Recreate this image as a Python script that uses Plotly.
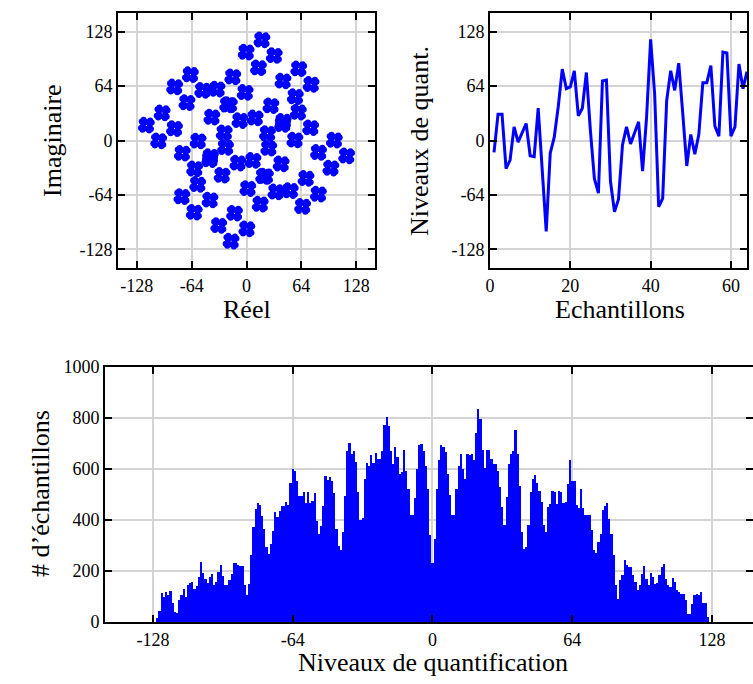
import plotly.graph_objects as go

# ---------------- Data ----------------
# Constellation (top-left): ring centres
ring_x = [16, 59, -67.5, -100.5, -18, 26.5, 58.5, -24,
          -16, -59, 67.5, 100.5, 18, -26.5, -58.5, 24]
ring_y = [102, 68, 61, 16, 58.5, 24.5, 17, 25.5,
          -102, -68, -61, -16, -58.5, -24.5, -17, -25.5]
# offsets of the 4 "flowers" in each ring, of the 4 petals in each flower,
# and of the 4 dots in each petal
flower_dx = [2.0, 16.4, -2.0, -16.4]
flower_dy = [16.4, -2.0, -16.4, 2.0]
petal_dx = [4.3, 3.4, -4.3, -3.4]
petal_dy = [3.4, -4.3, -3.4, 4.3]
dot_dx = [0.2, 2.0, -0.2, -2.0]
dot_dy = [2.0, -0.2, -2.0, 0.2]

# Quantised samples (top-right)
samples = list(range(1, 65))
quant = [-14, 31, 31, -33, -23, 16, -2, 9, 20, -18,
         -19, 38, -30, -107, -15, 4, 40, 84, 61, 63,
         82, 29, 38, 80, 12, -45, -62, 70, 71, -48,
         -84, -69, -5, 16, -4, 10, 22, -36, 28, 119,
         55, -78, -68, 47, 82, 59, 91, 32, -30, 7,
         -16, 7, 68, 68, 88, 17, 5, 104, 103, 5,
         16, 90, 61, 81]

# Histogram (bottom)
levels = list(range(-128, 128))
counts = [
    0, 0, 17, 42, 114, 100, 116, 105, 122, 76,            # -128..-119
    39, 34, 85, 105, 131, 100, 144, 154, 157, 128,        # -118..-109
    140, 176, 234, 193, 170, 153, 175, 188, 144, 157,     # -108..-99
    196, 225, 180, 144, 144, 163, 190, 230, 230, 225,     # -98..-89
    218, 218, 144, 105, 150, 264, 371, 444, 467, 460,     # -88..-79
    416, 366, 294, 268, 306, 358, 431, 412, 434, 455,     # -78..-69
    455, 470, 460, 546, 599, 591, 553, 493, 493, 510,     # -68..-59
    468, 510, 467, 474, 505, 396, 345, 375, 454, 571,     # -58..-49
    557, 569, 554, 506, 366, 298, 281, 353, 494, 670,     # -48..-39
    703, 660, 670, 627, 510, 399, 408, 562, 625, 612,     # -38..-29
    654, 622, 664, 639, 639, 669, 771, 804, 769, 669,     # -28..-19
    621, 686, 647, 579, 588, 673, 591, 520, 421, 421,     # -18..-9
    486, 599, 695, 699, 669, 610, 520, 340,               # -8..-1
    233, 327, 523, 634, 693, 686, 667, 582, 497, 421,     # 0..9
    421, 523, 610, 660, 601, 559, 660, 656, 660, 634,     # 10..19
    742, 834, 795, 676, 605, 676, 673, 640, 618, 621,     # 20..29
    591, 529, 451, 379, 490, 619, 660, 669, 751, 660,     # 30..39
    533, 353, 285, 294, 379, 510, 562, 575, 546, 514,     # 40..49
    470, 382, 353, 451, 461, 512, 510, 464, 512, 510,     # 50..59
    468, 470, 542, 634, 551, 551, 460, 447, 523, 447,     # 60..69
    418, 418, 418, 360, 281, 270, 314, 346, 438, 455,     # 70..79
    468, 405, 346, 264, 144, 91, 163, 183, 244, 225,      # 80..89
    216, 216, 183, 157, 124, 144, 190, 218, 170, 144,     # 90..99
    193, 176, 150, 153, 183, 216, 229, 170, 144, 137,     # 100..109
    173, 157, 124, 118, 111, 111, 85, 33, 33, 72,         # 110..119
    105, 111, 105, 118, 76, 76, 20, 0,                    # 120..127
]
levels = levels[:len(counts)]

axis_ticks = [-128, -64, 0, 64, 128]
axis_ticktext = ['-128', '-64', '0', '64', '128']
sample_ticks = [0, 20, 40, 60]
count_ticks = [0, 200, 400, 600, 800, 1000]

# ---------------- Build constellation points ----------------
pts_x, pts_y = [], []
for rx, ry in zip(ring_x, ring_y):
    for fx, fy in zip(flower_dx, flower_dy):
        for px, py in zip(petal_dx, petal_dy):
            for dx, dy in zip(dot_dx, dot_dy):
                pts_x.append(rx + fx + px + dx)
                pts_y.append(ry + fy + py + dy)

BLUE = '#0000FF'
FONT = 'Liberation Serif'
W, H = 753, 684

fig = go.Figure()
fig.add_trace(go.Scatter(x=pts_x, y=pts_y, mode='markers',
                         marker=dict(color=BLUE, size=6, line=dict(width=0)),
                         xaxis='x', yaxis='y', showlegend=False))
fig.add_trace(go.Scatter(x=samples, y=quant, mode='lines',
                         line=dict(color=BLUE, width=3),
                         xaxis='x2', yaxis='y2', showlegend=False))
fig.add_trace(go.Bar(x=levels, y=counts, width=1.0,
                     marker=dict(color=BLUE, line=dict(width=0)),
                     xaxis='x3', yaxis='y3', showlegend=False))


def ax(**kw):
    d = dict(showline=True, linecolor='black', linewidth=2, mirror='ticks',
             ticks='inside', ticklen=7, tickwidth=1.5, tickcolor='black',
             showgrid=True, gridcolor='#d4d4d4', gridwidth=1.5, zeroline=False,
             automargin=False,
             tickfont=dict(family=FONT, size=18, color='black'))
    d.update(kw)
    return d


def px_x(a, b):
    return [a / W, min(1.0, b / W)]


def px_y(top, bottom):
    return [1 - bottom / H, 1 - top / H]


fig.update_layout(
    template='none',
    width=W, height=H, autosize=False,
    margin=dict(l=0, r=0, t=0, b=0, pad=0),
    paper_bgcolor='white', plot_bgcolor='white',
    bargap=0,
    xaxis=ax(domain=px_x(118, 375), range=[-150, 150], tickvals=axis_ticks,
             ticktext=axis_ticktext, anchor='y'),
    yaxis=ax(domain=px_y(13, 268), range=[-150, 150], tickvals=axis_ticks,
             ticktext=axis_ticktext, anchor='x'),
    xaxis2=ax(domain=px_x(490, 747), range=[0, 64], tickvals=sample_ticks,
              anchor='y2'),
    yaxis2=ax(domain=px_y(13, 268), range=[-150, 150], tickvals=axis_ticks,
              ticktext=axis_ticktext, anchor='x2'),
    xaxis3=ax(domain=px_x(105, 753), range=[-150, 146.8], tickvals=axis_ticks,
              ticktext=axis_ticktext, anchor='y3'),
    yaxis3=ax(domain=px_y(367, 622), range=[0, 1000], tickvals=count_ticks,
              anchor='x3'),
)


def title(text, x, y, angle=0):
    fig.add_annotation(text=text, x=x / W, y=1 - y / H,
                       xref='paper', yref='paper',
                       showarrow=False, textangle=angle, xanchor='center',
                       yanchor='middle', font=dict(family=FONT, size=26, color='black'))


title('Réel', 247, 309)
title('Echantillons', 620, 309)
title('Niveaux de quantification', 433, 662)
title('Imaginaire', 53, 141, -90)
title('Niveaux de quant.', 420, 141, -90)
title('# d’échantillons', 40, 494, -90)

# remove the default 8 px page margin so the figure fills the window
fig.write_html('out.html',
               config={'displayModeBar': False},
               post_script="document.body.style.margin='0px';"
                           "document.body.style.overflow='hidden';")
